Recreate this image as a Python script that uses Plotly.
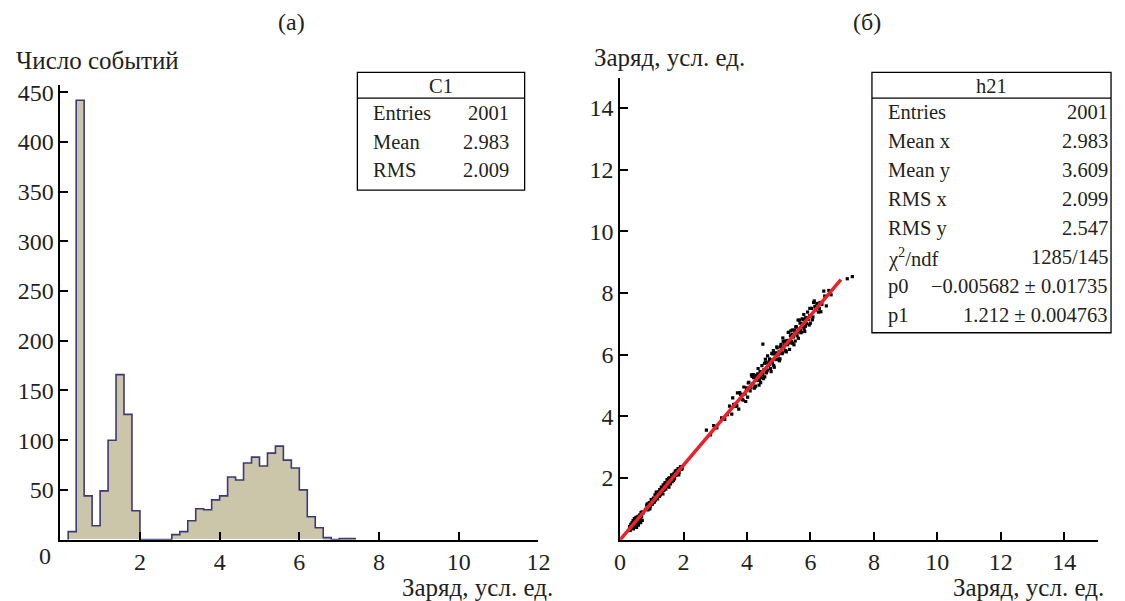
import plotly.graph_objects as go

# page window is 1125x601; the html body adds an 8px margin, so the figure is 8px smaller
PAGE_W, PAGE_H = 1125, 601
OFF = 8
W, H = PAGE_W - OFF, PAGE_H - OFF

# ---------------- data: panel (a) histogram ----------------
bin_left = [0.2, 0.4, 0.6, 0.8, 1.0, 1.2, 1.4, 1.6, 1.8, 2.0, 2.2, 2.4, 2.6, 2.8,
            3.0, 3.2, 3.4, 3.6, 3.8, 4.0, 4.2, 4.4, 4.6, 4.8, 5.0, 5.2, 5.4, 5.6,
            5.8, 6.0, 6.2, 6.4, 6.6, 6.8, 7.0, 7.2]
counts = [8, 442, 44, 14, 49, 100, 166, 126, 29, 0, 0, 0, 0, 5,
          8, 19, 31, 30, 40, 44, 63, 60, 77, 83, 74, 87, 94, 80,
          72, 50, 23, 12, 2, 0, 1, 1]
BIN_W = 0.2

# ---------------- data: panel (b) scatter ----------------
pts_low_x = [0.30, 0.32, 0.35, 0.36, 0.38, 0.40, 0.41, 0.42, 0.44, 0.45, 0.46, 0.48, 0.49, 0.50, 0.51,
             0.52, 0.53, 0.55, 0.56, 0.57, 0.58, 0.60, 0.61, 0.62, 0.63, 0.65, 0.66, 0.68, 0.70, 0.72,
             0.34, 0.39, 0.43, 0.47, 0.54, 0.59, 0.64, 0.69]
pts_low_y = [0.42, 0.30, 0.50, 0.38, 0.55, 0.45, 0.62, 0.35, 0.50, 0.68, 0.42, 0.58, 0.48, 0.72, 0.55,
             0.40, 0.64, 0.52, 0.75, 0.60, 0.47, 0.70, 0.58, 0.80, 0.66, 0.55, 0.88, 0.74, 0.62, 0.85,
             0.48, 0.40, 0.58, 0.52, 0.60, 0.76, 0.72, 0.90]

pts_mid_x = [0.80, 0.84, 0.88, 0.92, 0.95, 0.98, 1.02, 1.05, 1.08, 1.10, 1.12, 1.15, 1.18, 1.20, 1.22,
             1.25, 1.27, 1.30, 1.32, 1.34, 1.36, 1.38, 1.40, 1.42, 1.44, 1.46, 1.48, 1.50, 1.52, 1.54,
             1.56, 1.58, 1.60, 1.62, 1.64, 1.66, 1.68, 1.70, 1.72, 1.74, 1.76, 1.78, 1.80, 1.83, 1.86,
             1.90, 1.94,
             0.86, 0.94, 1.00, 1.06, 1.14, 1.24, 1.29, 1.35, 1.41, 1.47, 1.53, 1.59, 1.65, 1.71, 1.77,
             1.85, 1.92, 1.96]
pts_mid_y = [0.98, 1.12, 0.96, 1.20, 1.08, 1.30, 1.15, 1.35, 1.22, 1.45, 1.28, 1.50, 1.32, 1.55, 1.40,
             1.62, 1.45, 1.70, 1.52, 1.66, 1.78, 1.60, 1.72, 1.85, 1.64, 1.80, 1.95, 1.74, 1.88, 1.70,
             2.00, 1.82, 1.95, 2.10, 1.88, 2.02, 1.92, 2.15, 2.00, 2.22, 2.08, 2.25, 2.12, 2.30, 2.18,
             2.35, 2.28,
             1.16, 1.00, 1.26, 1.21, 1.54, 1.40, 1.58, 1.48, 1.81, 1.74, 1.99, 1.81, 2.06, 1.97, 2.23,
             2.10, 2.37, 2.32]

pts_gap_x = [2.72, 2.85, 2.95, 3.05, 3.20, 3.30, 3.38]
pts_gap_y = [3.55, 3.40, 3.70, 3.62, 3.95, 3.90, 4.05]

pts_high_x = [3.45, 3.52, 3.58, 3.63, 3.70, 3.74, 3.80, 3.85, 3.90, 3.94, 3.98, 4.02, 4.06, 4.10, 4.14,
              4.18, 4.21, 4.25, 4.28, 4.32, 4.35, 4.38, 4.41, 4.44, 4.47, 4.50, 4.53, 4.56, 4.59, 4.62,
              4.65, 4.68, 4.71, 4.74, 4.77, 4.80, 4.83, 4.86, 4.89, 4.92, 4.95, 4.98, 5.01, 5.04, 5.07,
              5.10, 5.13, 5.16, 5.19, 5.22, 5.25, 5.28, 5.31, 5.34, 5.37, 5.40, 5.43, 5.46, 5.49, 5.52,
              5.55, 5.58, 5.61, 5.64, 5.67, 5.70, 5.73, 5.76, 5.79, 5.82, 5.85, 5.88, 5.91, 5.94, 5.97,
              6.00, 6.04, 6.08, 6.12, 6.16, 6.20, 6.25, 6.30, 6.36, 6.42, 6.50, 6.58, 6.65,
              3.66, 3.77, 3.88, 3.99, 4.08, 4.16, 4.23, 4.30, 4.37, 4.43, 4.49, 4.55, 4.61, 4.66, 4.72,
              4.78, 4.84, 4.90, 4.96, 5.02, 5.08, 5.14, 5.20, 5.26, 5.32, 5.38, 5.44, 5.50, 5.56, 5.62,
              5.68, 5.74, 5.80, 5.86, 5.92, 5.98, 6.06, 6.14, 6.22, 6.33,
              3.55, 3.68, 3.82, 3.96, 4.04, 4.12, 4.20, 4.27, 4.34, 4.40, 4.46, 4.52, 4.58, 4.64, 4.70,
              4.76, 4.82, 4.88, 4.94, 5.00, 5.06, 5.12, 5.18, 5.24, 5.30, 5.36, 5.42, 5.48, 5.54, 5.60,
              5.66, 5.72, 5.78, 5.84, 5.90, 5.96, 6.10, 6.28, 6.45]
pts_high_y = [4.33, 4.07, 4.39, 4.32, 4.76, 4.23, 4.71, 4.55, 4.95, 4.73, 4.84, 4.62, 5.10, 4.82, 5.34,
              5.05, 5.25, 4.95, 5.24, 5.16, 5.55, 5.01, 5.45, 5.26, 5.64, 5.40, 5.51, 5.28, 5.74, 5.45,
              5.96, 5.65, 5.86, 5.55, 5.83, 5.74, 6.13, 5.59, 6.03, 5.84, 6.22, 5.99, 6.09, 5.86, 6.33,
              6.03, 6.54, 6.23, 6.44, 6.13, 6.41, 6.32, 6.72, 6.17, 6.61, 6.43, 6.80, 6.57, 6.67, 6.44,
              6.91, 6.61, 7.12, 6.82, 7.02, 6.71, 7.00, 6.90, 7.30, 6.75, 7.19, 7.01, 7.38, 7.15, 7.26,
              7.02, 7.50, 7.22, 7.74, 7.45, 7.66, 7.38, 7.69, 7.63, 8.06, 7.58, 8.08, 7.94,
              4.34, 4.77, 4.52, 4.92, 4.92, 5.29, 4.91, 5.33, 5.30, 5.09, 5.34, 5.72, 5.41, 5.73, 5.69,
              6.04, 5.65, 6.06, 6.01, 5.80, 6.06, 6.43, 6.12, 6.46, 6.42, 6.77, 6.37, 6.79, 6.74, 6.53,
              6.78, 7.16, 6.85, 7.18, 7.15, 7.50, 7.13, 7.56, 7.54, 7.39,
              4.60, 4.34, 4.71, 4.48, 5.08, 4.93, 5.35, 4.98, 5.38, 5.17, 5.45, 5.22, 5.85, 5.50, 5.78,
              5.45, 6.02, 5.86, 6.25, 5.86, 6.25, 6.05, 6.32, 6.09, 6.72, 6.38, 6.65, 6.32, 6.89, 6.73,
              7.12, 6.73, 7.13, 6.92, 7.19, 6.96, 7.69, 7.49, 7.90]

pts_out_x = [4.50, 7.16, 7.32]
pts_out_y = [6.34, 8.46, 8.53]

fit_p0 = -0.005682
fit_p1 = 1.212
fit_x = [0.0, 6.96]

# ---------------- stats boxes text ----------------
stats_a_title = "C1"
stats_a_labels = ["Entries", "Mean", "RMS"]
stats_a_values = ["2001", "2.983", "2.009"]
stats_b_title = "h21"
stats_b_labels = ["Entries", "Mean x", "Mean y", "RMS x", "RMS y", "χ<sup>2</sup>/ndf", "p0", "p1"]
stats_b_values = ["2001", "2.983", "3.609", "2.099", "2.547", "1285/145",
                  "−0.005682 ± 0.01735", "1.212 ± 0.004763"]

hist_y_ticks = [50, 100, 150, 200, 250, 300, 350, 400, 450]
hist_x_ticks = [2, 4, 6, 8, 10, 12]
sc_x_ticks = [0, 2, 4, 6, 8, 10, 12, 14]
sc_y_ticks = [2, 4, 6, 8, 10, 12, 14]

x_title = "Заряд, усл. ед."
y_title_a = "Число событий"

# ---------------- helpers ----------------
FONT = "Liberation Serif, Times New Roman, serif"
TXT = "#231f20"
TICK_SIZE = 24
TITLE_SIZE = 25
STAT_SIZE = 20.5


def px(xp):
    """page pixel x -> paper coordinate"""
    return (xp - OFF) / W


def py(yp):
    """page pixel y (from top) -> paper coordinate"""
    return (H - (yp - OFF)) / H


fig = go.Figure()

# histogram fill
fig.add_trace(go.Bar(
    x=[b + BIN_W / 2 for b in bin_left], y=counts, width=BIN_W,
    marker=dict(color="#cbc6aa", line=dict(width=0)),
    xaxis="x", yaxis="y", hoverinfo="skip"))

# histogram outline (step)
step_x = [bin_left[0]] + bin_left + [bin_left[-1] + BIN_W]
step_y = [0] + counts + [0]
fig.add_trace(go.Scatter(
    x=step_x, y=step_y, mode="lines", line=dict(shape="hv", color="#3b3a78", width=1.6),
    xaxis="x", yaxis="y", hoverinfo="skip"))

# scatter points
all_x = pts_low_x + pts_mid_x + pts_gap_x + pts_high_x + pts_out_x
all_y = pts_low_y + pts_mid_y + pts_gap_y + pts_high_y + pts_out_y
fig.add_trace(go.Scatter(
    x=all_x, y=all_y, mode="markers",
    marker=dict(symbol="square", size=3.2, color="black", line=dict(width=0)),
    xaxis="x2", yaxis="y2", hoverinfo="skip"))

# fit line
fig.add_trace(go.Scatter(
    x=fit_x, y=[fit_p0 + fit_p1 * v for v in fit_x], mode="lines",
    line=dict(color="#ec2028", width=3.5),
    xaxis="x2", yaxis="y2", hoverinfo="skip"))

axis_common = dict(
    showgrid=False, zeroline=False, showline=True, linecolor="black", linewidth=1.5,
    ticks="inside", ticklen=8, tickwidth=1.5, tickcolor="black",
    tickfont=dict(family=FONT, size=TICK_SIZE, color=TXT), fixedrange=True)

fig.update_layout(
    width=W, height=H,
    margin=dict(l=0, r=0, t=0, b=0),
    paper_bgcolor="white", plot_bgcolor="white",
    showlegend=False, bargap=0,
    xaxis=dict(domain=[px(55), px(541)], range=[0, 12], tickvals=hist_x_ticks,
               anchor="y", **axis_common),
    yaxis=dict(domain=[py(539), py(80)], range=[0, 457], tickvals=hist_y_ticks,
               anchor="x", **axis_common),
    xaxis2=dict(domain=[px(624), px(1110)], range=[0, 15.07], tickvals=sc_x_ticks,
                anchor="y2", **axis_common),
    yaxis2=dict(domain=[py(539), py(73)], range=[0, 14.96], tickvals=sc_y_ticks,
                anchor="x2", **axis_common),
)

annotations = []
shapes = []


def add_text(text, xp, yp, size=TITLE_SIZE, xanchor="center"):
    annotations.append(dict(
        text=text, x=px(xp), y=py(yp), xref="paper", yref="paper",
        xanchor=xanchor, yanchor="middle", showarrow=False,
        font=dict(family=FONT, size=size, color=TXT)))


# titles
add_text("(а)", 290, 16, size=TICK_SIZE)
add_text("(б)", 875, 16, size=TICK_SIZE)
add_text(y_title_a, 8, 55, xanchor="left")
add_text(x_title, 558, 587, xanchor="right")
add_text(x_title, 1118, 587, xanchor="right")
add_text(x_title, 595, 52, xanchor="left")
# "0" label of the histogram x axis (placed left of the y axis as in the original)
add_text("0", 40, 556, size=TICK_SIZE)


def stats_box(x0, x1, y0, y1, head_y, title, labels, values, row0, dy, lab_x, val_x):
    shapes.append(dict(type="rect", xref="paper", yref="paper",
                       x0=px(x0), x1=px(x1), y0=py(y1), y1=py(y0),
                       line=dict(color="black", width=1.3), fillcolor="white", layer="above"))
    shapes.append(dict(type="line", xref="paper", yref="paper",
                       x0=px(x0), x1=px(x1), y0=py(head_y), y1=py(head_y),
                       line=dict(color="black", width=1.3), layer="above"))
    add_text(title, (x0 + x1) / 2, (y0 + head_y) / 2 + 1, size=STAT_SIZE)
    for i, (lab, val) in enumerate(zip(labels, values)):
        yy = row0 + i * dy
        add_text(lab, lab_x, yy, size=STAT_SIZE, xanchor="left")
        add_text(val, val_x, yy, size=STAT_SIZE, xanchor="right")


stats_box(357, 527, 67, 186, 93, stats_a_title, stats_a_labels, stats_a_values,
          108, 29, 371, 513)
stats_box(880, 1123, 67, 330, 93, stats_b_title, stats_b_labels, stats_b_values,
          107, 29.3, 894, 1122)

fig.update_layout(annotations=annotations, shapes=shapes)

fig.write_html("out.html")
